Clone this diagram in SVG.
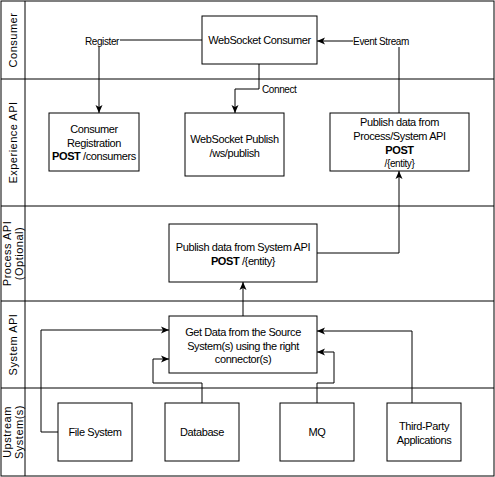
<svg xmlns="http://www.w3.org/2000/svg" width="495" height="477" viewBox="0 0 495 477">
<defs>
<marker id="arr" markerUnits="userSpaceOnUse" markerWidth="9" markerHeight="8" refX="8" refY="4" orient="auto">
<path d="M0,0.5 L8,4 L0,7.5 L2,4 z" fill="#000"/>
</marker>
<style>
.box{fill:#fff;stroke:#000;stroke-width:1}
.t{font-family:"Liberation Sans",Arial,sans-serif;font-size:11px;fill:#000;text-anchor:middle;letter-spacing:-0.4px}
.b{font-weight:bold}
.lane{font-family:"Liberation Sans",Arial,sans-serif;font-size:11px;fill:#000;text-anchor:middle;letter-spacing:0.5px}
.el{font-family:"Liberation Sans",Arial,sans-serif;font-size:10px;fill:#000;letter-spacing:-0.4px}
.c{fill:none;stroke:#000;stroke-width:1}
</style>
</defs>
<g id="lanes">
<rect x="1" y="1" width="493" height="475" fill="#fff" stroke="#000"/>
<line x1="25" y1="1" x2="25" y2="476" stroke="#000"/>
<line x1="1" y1="79" x2="494" y2="79" stroke="#000"/>
<line x1="1" y1="206" x2="494" y2="206" stroke="#000"/>
<line x1="1" y1="301" x2="494" y2="301" stroke="#000"/>
<line x1="1" y1="388" x2="494" y2="388" stroke="#000"/>
<text class="lane" transform="translate(17,40) rotate(-90)">Consumer</text>
<text class="lane" transform="translate(17,142.5) rotate(-90)">Experience API</text>
<text class="lane" transform="translate(13,253.5) rotate(-90)"><tspan x="0" dy="-2">Process API</tspan><tspan x="0" dy="12">(Optional)</tspan></text>
<text class="lane" transform="translate(17,344.5) rotate(-90)">System API</text>
<text class="lane" transform="translate(13,432) rotate(-90)"><tspan x="0" dy="-2">Upstream</tspan><tspan x="0" dy="12">System(s)</tspan></text>
</g>
<g id="connectors">
<path class="c" d="M202,40 H99 V113" marker-end="url(#arr)"/>
<rect x="84" y="34" width="36" height="13" fill="#fff"/>
<text class="el" x="102" y="44.5" text-anchor="middle">Register</text>
<path class="c" d="M259,64 V89 H235 V113" marker-end="url(#arr)"/>
<text class="el" x="262" y="93">Connect</text>
<path class="c" d="M399,113 V41 H317" marker-end="url(#arr)"/>
<rect x="353" y="34" width="56" height="13" fill="#fff"/>
<text class="el" x="381" y="44.5" text-anchor="middle">Event Stream</text>
<path class="c" d="M317,253 H399 V171" marker-end="url(#arr)"/>
<path class="c" d="M243,316 V282" marker-end="url(#arr)"/>
<path class="c" d="M58,432 H41 V330 H169" marker-end="url(#arr)"/>
<path class="c" d="M202,403 V383 H153 V359 H169" marker-end="url(#arr)"/>
<path class="c" d="M317,403 V383 H334 V352 H317" marker-end="url(#arr)"/>
<path class="c" d="M412,403 V331 H317" marker-end="url(#arr)"/>
</g>
<g id="ws-consumer">
<rect class="box" x="202" y="16" width="115" height="48"/>
<text class="t" x="259.5" y="44">WebSocket Consumer</text>
</g>
<g id="consumer-registration">
<rect class="box" x="49" y="113" width="90" height="58"/>
<text class="t" x="94" y="133">Consumer</text>
<text class="t" x="94" y="146.5">Registration</text>
<text class="t" x="94" y="160"><tspan class="b">POST</tspan> /consumers</text>
</g>
<g id="ws-publish">
<rect class="box" x="185" y="113" width="99" height="63"/>
<text class="t" x="234.5" y="143">WebSocket Publish</text>
<text class="t" x="234.5" y="156.5">/ws/publish</text>
</g>
<g id="publish-exp">
<rect class="box" x="330" y="113" width="139" height="58"/>
<text class="t" x="399.5" y="126">Publish data from</text>
<text class="t" x="399.5" y="140">Process/System API</text>
<text class="t b" x="399.5" y="154">POST</text>
<text class="t" x="399.5" y="167" style="font-size:10px">/{entity}</text>
</g>
<g id="publish-process">
<rect class="box" x="169" y="224" width="148" height="58"/>
<text class="t" x="243" y="251">Publish data from System API</text>
<text class="t" x="243" y="264.5"><tspan class="b">POST</tspan> /{entity}</text>
</g>
<g id="get-data">
<rect class="box" x="169" y="316" width="148" height="57"/>
<text class="t" x="243" y="336">Get Data from the Source</text>
<text class="t" x="243" y="349.5">System(s) using the right</text>
<text class="t" x="243" y="363">connector(s)</text>
</g>
<g id="file-system">
<rect class="box" x="58" y="403" width="74" height="58"/>
<text class="t" x="95" y="436">File System</text>
</g>
<g id="database">
<rect class="box" x="165" y="403" width="74" height="58"/>
<text class="t" x="202" y="436">Database</text>
</g>
<g id="mq">
<rect class="box" x="280" y="403" width="74" height="58"/>
<text class="t" x="317" y="436">MQ</text>
</g>
<g id="third-party">
<rect class="box" x="387" y="403" width="74" height="58"/>
<text class="t" x="424" y="430">Third-Party</text>
<text class="t" x="424" y="443.5">Applications</text>
</g>
</svg>
